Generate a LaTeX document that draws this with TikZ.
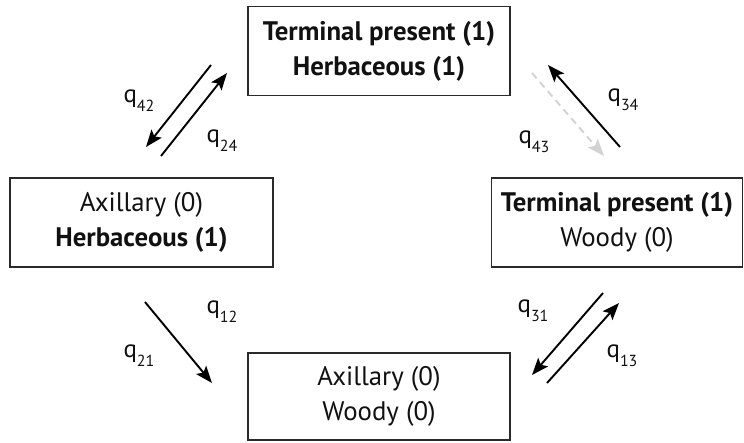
\documentclass[tikz,border=0pt]{standalone}
\usepackage{fontspec}
\setmainfont{PT Sans}
\usetikzlibrary{arrows.meta}
\definecolor{boxline}{HTML}{2A2A2A}
\definecolor{txt}{HTML}{111111}
\definecolor{lightarrow}{HTML}{D2D2D2}
\newcommand{\qlab}[1]{q\raisebox{-0.36em}{\fontsize{16}{16}\selectfont #1}}
\tikzset{
  statebox/.style={draw=boxline, line width=1.9pt, text=txt, align=center,
    inner sep=0pt, font=\fontsize{26.8}{35}\selectfont},
  trans/.style={line width=1.9pt, draw=black,
    -{Stealth[length=17pt,width=13pt,inset=3.5pt]}},
  transdim/.style={line width=1.9pt, draw=lightarrow, dash pattern=on 7pt off 5pt,
    -{Stealth[length=17pt,width=13pt,inset=3.5pt,fill=lightarrow]}},
  ratelab/.style={text=txt, inner sep=0pt, font=\fontsize{25}{25}\selectfont}
}
\begin{document}
\begin{tikzpicture}[x=1pt,y=-1pt]
\useasboundingbox (0,0) rectangle (744,442);
\node[statebox, minimum width=262pt, minimum height=89pt] (top) at (379,51)
  {\textbf{Terminal present (1)}\\\textbf{Herbaceous (1)}};
\node[statebox, minimum width=263pt, minimum height=89pt] (left) at (141.5,222.5)
  {Axillary (0)\\\textbf{Herbaceous (1)}};
\node[statebox, minimum width=251pt, minimum height=89pt] (right) at (617,222.5)
  {\textbf{Terminal present (1)}\\Woody (0)};
\node[statebox, minimum width=262pt, minimum height=87pt] (bottom) at (379,396.5)
  {Axillary (0)\\Woody (0)};

% arrow end points
\coordinate (a42s) at (211,65);  \coordinate (a42e) at (146,147);
\coordinate (a24s) at (161,156); \coordinate (a24e) at (227,73);
\coordinate (a34s) at (620,147); \coordinate (a34e) at (548,65);
\coordinate (a43s) at (532,73);  \coordinate (a43e) at (604,156);
\coordinate (a12s) at (145,302); \coordinate (a12e) at (212,383);
\coordinate (a31s) at (603,293); \coordinate (a31e) at (532,375);
\coordinate (a13s) at (547,383); \coordinate (a13e) at (619,303);

\draw[trans] (a42s) -- (a42e);
\draw[trans] (a24s) -- (a24e);
\draw[trans] (a34s) -- (a34e);
\draw[transdim] (a43s) -- (a43e);
\draw[trans] (a12s) -- (a12e);
\draw[trans] (a31s) -- (a31e);
\draw[trans] (a13s) -- (a13e);

\node[ratelab] (q42) at (139,101) {\qlab{42}};
\node[ratelab] (q24) at (222,141) {\qlab{24}};
\node[ratelab] (q34) at (623,100) {\qlab{34}};
\node[ratelab] (q43) at (534,142) {\qlab{43}};
\node[ratelab] (q12) at (222,312) {\qlab{12}};
\node[ratelab] (q21) at (139,356) {\qlab{21}};
\node[ratelab] (q31) at (533,311) {\qlab{31}};
\node[ratelab] (q13) at (622,356) {\qlab{13}};
\end{tikzpicture}
\end{document}
